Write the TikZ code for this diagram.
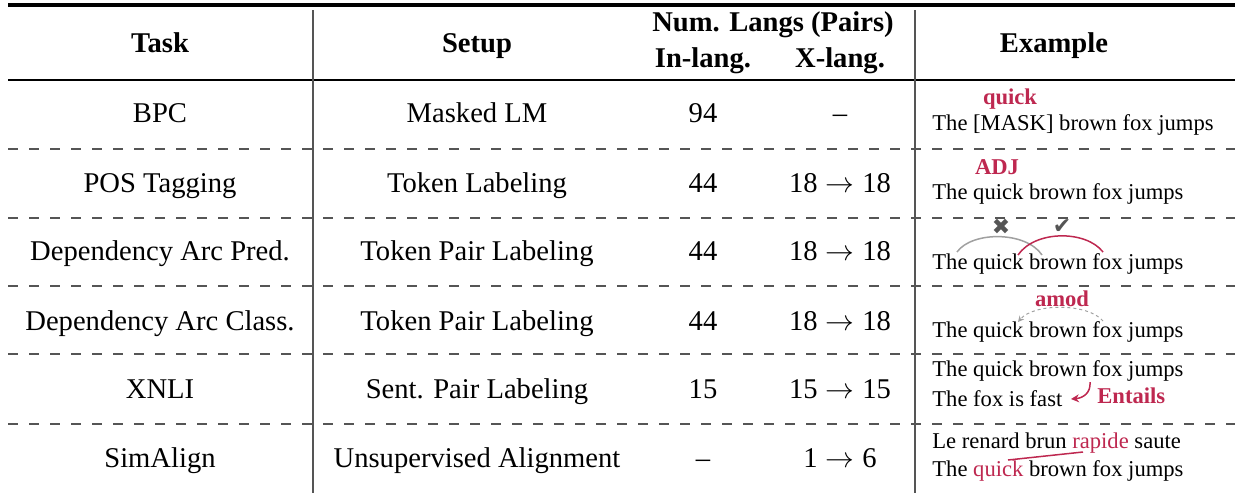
\documentclass[tikz,border=0pt]{standalone}
\usepackage{fontspec}
\setmainfont{Liberation Serif}
\newfontfamily\symfont{DejaVu Sans}
\usetikzlibrary{arrows.meta}
\definecolor{crim}{RGB}{190,40,80}
\definecolor{rulegray}{RGB}{85,85,85}
\definecolor{arcgray}{RGB}{160,160,160}
\begin{document}
\begin{tikzpicture}[x=0.5pt,y=-0.5pt,
  main/.style={font=\fontsize{14.3}{16}\selectfont, inner sep=0pt, anchor=base},
  head/.style={font=\fontsize{14.3}{16}\selectfont\bfseries, inner sep=0pt, anchor=base},
  ex/.style={font=\fontsize{11.3}{13}\selectfont, inner sep=0pt, anchor=base west},
  exlab/.style={font=\fontsize{11.3}{13}\selectfont\bfseries, text=crim, inner sep=0pt, anchor=base},
  mark glyph/.style={font=\fontsize{11}{12}\symfont, text=rulegray, inner sep=0pt},
  dashrule/.style={draw=rulegray, line width=0.75pt, dash pattern=on 5pt off 5.5pt},
  solidrule/.style={draw=black, line width=0.75pt},
  toprule/.style={draw=black, line width=1.6pt},
  vrule/.style={draw=rulegray, line width=0.8pt},
  redarc/.style={draw=crim, line width=0.75pt},
  grayarc/.style={draw=arcgray, line width=0.75pt},
]
\useasboundingbox (0,0) rectangle (1235,493);

% rules
\coordinate (tl) at (8,5);   \coordinate (tr) at (1235,5);
\coordinate (hl) at (8,80);  \coordinate (hr) at (1235,80);
\draw[toprule] (tl) -- (tr);
\draw[solidrule] (hl) -- (hr);
\foreach \yy [count=\i] in {149,218,286,354,424}{
  \coordinate (dl\i) at (8,\yy); \coordinate (dr\i) at (1235,\yy);
  \draw[dashrule] (dl\i) -- (dr\i);
}
\coordinate (v1t) at (313,10); \coordinate (v1b) at (313,493);
\coordinate (v2t) at (915,10); \coordinate (v2b) at (915,493);
\draw[vrule] (v1t) -- (v1b);
\draw[vrule] (v2t) -- (v2b);

% header
\node[head] (hTask) at (160,52) {Task};
\node[head] (hSetup) at (477,52) {Setup};
\node[head] (hNum) at (773,31) {Num. Langs (Pairs)};
\node[head] (hIn) at (703,67) {In-lang.};
\node[head] (hX) at (840,67) {X-lang.};
\node[head] (hEx) at (1054,52) {Example};

% rows
\node[main] (t1) at (160,122) {BPC};
\node[main] (s1) at (477,122) {Masked LM};
\node[main] (i1) at (703,122) {94};
\node[main] (x1) at (840,122) {--};

\node[main] (t2) at (160,192) {POS Tagging};
\node[main] (s2) at (477,192) {Token Labeling};
\node[main] (i2) at (703,192) {44};
\node[main] (x2) at (840,192) {18$\;\rightarrow\;$18};

\node[main] (t3) at (160,260) {Dependency Arc Pred.};
\node[main] (s3) at (477,260) {Token Pair Labeling};
\node[main] (i3) at (703,260) {44};
\node[main] (x3) at (840,260) {18$\;\rightarrow\;$18};

\node[main] (t4) at (160,330) {Dependency Arc Class.};
\node[main] (s4) at (477,330) {Token Pair Labeling};
\node[main] (i4) at (703,330) {44};
\node[main] (x4) at (840,330) {18$\;\rightarrow\;$18};

\node[main] (t5) at (160,398) {XNLI};
\node[main] (s5) at (477,398) {Sent. Pair Labeling};
\node[main] (i5) at (703,398) {15};
\node[main] (x5) at (840,398) {15$\;\rightarrow\;$15};

\node[main] (t6) at (160,467) {SimAlign};
\node[main] (s6) at (477,467) {Unsupervised Alignment};
\node[main] (i6) at (703,467) {--};
\node[main] (x6) at (840,467) {1$\;\rightarrow\;$6};

% examples
\node[exlab] (e1l) at (1010,104) {quick};
\node[ex] (e1) at (932,130) {The [MASK] brown fox jumps};

\node[exlab] (e2l) at (997,174) {ADJ};
\node[ex] (e2) at (932,199) {The quick brown fox jumps};

\node[ex] (e3) at (932,269) {The quick brown fox jumps};
\coordinate (g1) at (957,252); \coordinate (g2) at (1042,255);
\coordinate (r1) at (1018,255); \coordinate (r2) at (1103,252);
\draw[grayarc] (g1) .. controls (972,231) and (1026,231) .. (g2);
\draw[redarc] (r1) .. controls (1035,230) and (1086,230) .. (r2);
\node[mark glyph] (xm) at (1001,227) {✖};
\node[mark glyph] (cm) at (1062,227) {✔};

\node[exlab] (e4l) at (1062,306) {amod};
\node[ex] (e4) at (932,337) {The quick brown fox jumps};
\coordinate (a1) at (1103,321); \coordinate (a2) at (1018,322);
\draw[draw=arcgray, line width=0.5pt, dash pattern=on 1.5pt off 1.5pt, -{Stealth[length=3pt,width=3pt]}]
  (a1) .. controls (1088,303) and (1034,303) .. (a2);

\node[ex] (e5a) at (932,376) {The quick brown fox jumps};
\node[ex] (e5b) at (932,406) {The fox is fast};
\node[exlab, anchor=base west] (e5l) at (1097,403) {Entails};
\coordinate (n1) at (1090,382); \coordinate (n2) at (1071,399);
\draw[redarc, -{Stealth[length=4pt,width=4pt]}] (n1) .. controls (1091,393) and (1083,398) .. (n2);

\node[ex] (e6a) at (932,448) {Le renard brun \textcolor{crim}{rapide} saute};
\node[ex] (e6b) at (932,476) {The \textcolor{crim}{quick} brown fox jumps};
\coordinate (l1) at (1008,460); \coordinate (l2) at (1083,452);
\draw[redarc] (l1) -- (l2);
\end{tikzpicture}
\end{document}
